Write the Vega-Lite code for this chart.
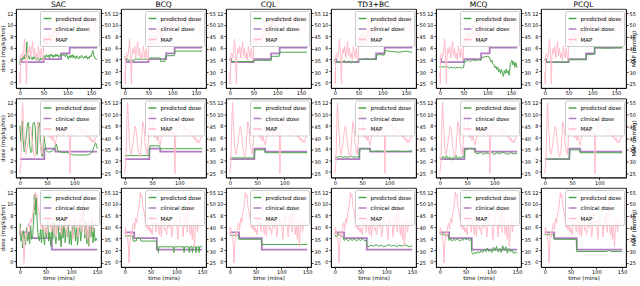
{
"$schema": "https://vega.github.io/schema/vega-lite/v6.json",
"padding": {"left": 0, "top": 0, "right": 0, "bottom": 0},
"background": "white",
"datasets": {
"m1": [{"t":0,"v":30},{"t":1,"v":25},{"t":2,"v":37},{"t":4,"v":38},{"t":6,"v":36},{"t":8,"v":39},{"t":10,"v":44},{"t":12,"v":37},{"t":14,"v":25},{"t":15,"v":36},{"t":17,"v":40},{"t":19,"v":38},{"t":21,"v":41},{"t":23,"v":36},{"t":25,"v":39},{"t":27,"v":43},{"t":29,"v":37},{"t":31,"v":40},{"t":33,"v":36},{"t":35,"v":38},{"t":37,"v":35},{"t":39,"v":41},{"t":41,"v":38},{"t":43,"v":36},{"t":45,"v":40},{"t":47,"v":37},{"t":49,"v":35},{"t":51,"v":45},{"t":53,"v":42},{"t":55,"v":46},{"t":57,"v":41},{"t":59,"v":44},{"t":61,"v":47},{"t":63,"v":43},{"t":65,"v":46},{"t":67,"v":42},{"t":69,"v":48},{"t":71,"v":44},{"t":73,"v":50},{"t":75,"v":45},{"t":77,"v":47},{"t":79,"v":43},{"t":81,"v":49},{"t":83,"v":45},{"t":85,"v":51},{"t":87,"v":47},{"t":89,"v":52},{"t":91,"v":49},{"t":93,"v":53},{"t":95,"v":50},{"t":97,"v":51},{"t":100,"v":49},{"t":103,"v":53},{"t":106,"v":51},{"t":109,"v":54},{"t":112,"v":51},{"t":115,"v":53},{"t":118,"v":50},{"t":121,"v":52},{"t":124,"v":55},{"t":127,"v":51},{"t":130,"v":53},{"t":133,"v":50},{"t":136,"v":54},{"t":139,"v":51},{"t":142,"v":53},{"t":145,"v":50},{"t":148,"v":46},{"t":150,"v":52},{"t":153,"v":55},{"t":156,"v":50},{"t":158,"v":47},{"t":160,"v":53},{"t":163,"v":50}],
"m2": [{"t":0,"v":25},{"t":2,"v":30},{"t":4,"v":50},{"t":5,"v":55},{"t":7,"v":45},{"t":9,"v":36},{"t":11,"v":33},{"t":13,"v":35},{"t":15,"v":38},{"t":17,"v":42},{"t":19,"v":45},{"t":21,"v":43},{"t":23,"v":38},{"t":25,"v":34},{"t":27,"v":32},{"t":29,"v":33},{"t":31,"v":40},{"t":33,"v":47},{"t":35,"v":45},{"t":37,"v":38},{"t":39,"v":35},{"t":41,"v":33},{"t":43,"v":38},{"t":45,"v":48},{"t":47,"v":55},{"t":49,"v":52},{"t":51,"v":47},{"t":53,"v":43},{"t":55,"v":40},{"t":57,"v":41},{"t":59,"v":39},{"t":61,"v":41},{"t":63,"v":38},{"t":65,"v":37},{"t":67,"v":40},{"t":69,"v":42},{"t":71,"v":41},{"t":73,"v":43},{"t":75,"v":42},{"t":77,"v":44},{"t":79,"v":41},{"t":81,"v":43},{"t":83,"v":42},{"t":85,"v":44},{"t":87,"v":41},{"t":89,"v":43},{"t":91,"v":42},{"t":92,"v":25},{"t":93,"v":38},{"t":95,"v":45},{"t":97,"v":47},{"t":99,"v":45},{"t":101,"v":44},{"t":103,"v":46},{"t":105,"v":45},{"t":107,"v":44},{"t":109,"v":43},{"t":111,"v":45},{"t":113,"v":43},{"t":115,"v":42},{"t":117,"v":44},{"t":119,"v":42},{"t":121,"v":43},{"t":123,"v":41},{"t":125,"v":40},{"t":127,"v":42},{"t":129,"v":39},{"t":131,"v":40},{"t":133,"v":38},{"t":135,"v":39},{"t":137,"v":38},{"t":139,"v":40},{"t":142,"v":41}],
"m3": [{"t":0,"v":37},{"t":1,"v":40},{"t":3,"v":38},{"t":5,"v":36},{"t":7,"v":32},{"t":8,"v":25},{"t":9,"v":30},{"t":11,"v":38},{"t":13,"v":36},{"t":15,"v":40},{"t":17,"v":42},{"t":19,"v":39},{"t":21,"v":44},{"t":23,"v":42},{"t":25,"v":46},{"t":27,"v":48},{"t":29,"v":52},{"t":30,"v":55},{"t":31,"v":53},{"t":33,"v":54},{"t":35,"v":49},{"t":37,"v":47},{"t":39,"v":44},{"t":41,"v":40},{"t":42,"v":42},{"t":45,"v":39},{"t":46,"v":41},{"t":49,"v":38},{"t":50,"v":40},{"t":53,"v":37},{"t":55,"v":43},{"t":56,"v":41},{"t":59,"v":42},{"t":61,"v":38},{"t":63,"v":44},{"t":64,"v":42},{"t":67,"v":37},{"t":69,"v":42},{"t":71,"v":36},{"t":72,"v":39},{"t":75,"v":45},{"t":77,"v":39},{"t":78,"v":40},{"t":81,"v":37},{"t":83,"v":41},{"t":85,"v":44},{"t":86,"v":40},{"t":89,"v":42},{"t":91,"v":36},{"t":93,"v":40},{"t":95,"v":46},{"t":96,"v":41},{"t":99,"v":43},{"t":101,"v":40},{"t":103,"v":35},{"t":105,"v":42},{"t":107,"v":45},{"t":108,"v":41},{"t":111,"v":41},{"t":113,"v":36},{"t":115,"v":44},{"t":116,"v":40},{"t":119,"v":46},{"t":121,"v":38},{"t":123,"v":50},{"t":124,"v":52},{"t":125,"v":42},{"t":127,"v":37},{"t":129,"v":41},{"t":131,"v":35},{"t":133,"v":43},{"t":135,"v":32},{"t":137,"v":40},{"t":139,"v":44},{"t":141,"v":38},{"t":143,"v":42},{"t":145,"v":41},{"t":147,"v":43},{"t":150,"v":42}],
"c1": [{"t":0,"v":4},{"t":3,"v":3.5},{"t":50,"v":4},{"t":87,"v":5},{"t":105,"v":6},{"t":163,"v":6}],
"c2": [{"t":0,"v":2.2},{"t":45,"v":4},{"t":65,"v":3.5},{"t":142,"v":3.5}],
"c3": [{"t":0,"v":5},{"t":18,"v":4},{"t":62,"v":2},{"t":150,"v":2}],
"SAC1": [{"t":0,"v":3},{"t":1,"v":4},{"t":3,"v":4.2},{"t":5,"v":3.8},{"t":7,"v":4.5},{"t":9,"v":4},{"t":11,"v":4.8},{"t":13,"v":4.2},{"t":15,"v":7},{"t":16,"v":5},{"t":18,"v":4.5},{"t":20,"v":4},{"t":22,"v":4.6},{"t":24,"v":4.2},{"t":26,"v":3.9},{"t":28,"v":4.4},{"t":30,"v":4},{"t":32,"v":4.5},{"t":34,"v":4.1},{"t":36,"v":3.8},{"t":38,"v":4.3},{"t":40,"v":4},{"t":42,"v":3.7},{"t":44,"v":4.2},{"t":46,"v":3.9},{"t":48,"v":4.3},{"t":50,"v":4},{"t":52,"v":4.6},{"t":54,"v":4.2},{"t":56,"v":4.8},{"t":58,"v":4.4},{"t":60,"v":4.7},{"t":62,"v":4.2},{"t":64,"v":4.9},{"t":66,"v":4.5},{"t":68,"v":4.8},{"t":70,"v":4.3},{"t":72,"v":4.7},{"t":74,"v":4.4},{"t":76,"v":4.9},{"t":78,"v":4.5},{"t":80,"v":4.8},{"t":82,"v":4.3},{"t":84,"v":4.6},{"t":86,"v":4.8},{"t":88,"v":4.5},{"t":90,"v":4.9},{"t":92,"v":4.6},{"t":94,"v":4.8},{"t":96,"v":4.4},{"t":98,"v":4.9},{"t":100,"v":4.6},{"t":102,"v":4},{"t":104,"v":4.6},{"t":106,"v":4.2},{"t":108,"v":4.7},{"t":110,"v":4.3},{"t":112,"v":4.8},{"t":114,"v":4.2},{"t":116,"v":4.5},{"t":118,"v":4.1},{"t":120,"v":4.6},{"t":122,"v":4.3},{"t":124,"v":4},{"t":126,"v":4.5},{"t":128,"v":4.2},{"t":130,"v":4.7},{"t":132,"v":4.3},{"t":134,"v":4.1},{"t":136,"v":4.5},{"t":138,"v":4.2},{"t":140,"v":4.6},{"t":142,"v":4},{"t":144,"v":4.4},{"t":146,"v":4.1},{"t":148,"v":4.6},{"t":150,"v":4.4},{"t":152,"v":5},{"t":154,"v":5.5},{"t":156,"v":4.6},{"t":158,"v":4.2},{"t":160,"v":4},{"t":163,"v":4}],
"BCQ1": [{"t":0,"v":4.5},{"t":2,"v":4},{"t":6,"v":4},{"t":7,"v":3.8},{"t":20,"v":3.8},{"t":21,"v":4},{"t":50,"v":4},{"t":52,"v":4.2},{"t":75,"v":4.2},{"t":76,"v":3.6},{"t":84,"v":3.6},{"t":85,"v":4.2},{"t":87,"v":4.6},{"t":104,"v":4.6},{"t":105,"v":5.4},{"t":163,"v":5.4}],
"CQL1": [{"t":0,"v":4},{"t":2,"v":3.6},{"t":50,"v":3.6},{"t":51,"v":3.8},{"t":87,"v":3.8},{"t":88,"v":4.5},{"t":104,"v":4.5},{"t":105,"v":5.2},{"t":163,"v":5.2}],
"TD31": [{"t":0,"v":4},{"t":1,"v":3.2},{"t":3,"v":3.6},{"t":5,"v":3.4},{"t":8,"v":3.7},{"t":11,"v":3.3},{"t":14,"v":3.6},{"t":17,"v":3.5},{"t":20,"v":3.8},{"t":23,"v":3.4},{"t":26,"v":3.6},{"t":29,"v":3.5},{"t":32,"v":3.7},{"t":35,"v":3.3},{"t":38,"v":3.6},{"t":41,"v":3.4},{"t":44,"v":3.6},{"t":47,"v":3.5},{"t":50,"v":3.7},{"t":52,"v":4},{"t":58,"v":3.9},{"t":64,"v":4.1},{"t":70,"v":4},{"t":76,"v":3.9},{"t":82,"v":4.1},{"t":87,"v":4},{"t":88,"v":4.7},{"t":95,"v":4.8},{"t":104,"v":4.7},{"t":105,"v":5.5},{"t":112,"v":5.4},{"t":120,"v":5.3},{"t":128,"v":5.3},{"t":136,"v":5.2},{"t":144,"v":5.3},{"t":150,"v":5.4},{"t":156,"v":5.3},{"t":163,"v":5.2}],
"MCQ1": [{"t":0,"v":2.8},{"t":1,"v":2.5},{"t":3,"v":2.7},{"t":6,"v":2.6},{"t":9,"v":2.8},{"t":12,"v":2.5},{"t":15,"v":2.7},{"t":18,"v":2.6},{"t":21,"v":2.4},{"t":24,"v":2.7},{"t":27,"v":2.5},{"t":30,"v":2.6},{"t":33,"v":2.4},{"t":36,"v":2.6},{"t":39,"v":2.5},{"t":42,"v":2.7},{"t":45,"v":2.4},{"t":48,"v":2.6},{"t":50,"v":2.5},{"t":52,"v":3.7},{"t":55,"v":3.6},{"t":60,"v":3.8},{"t":65,"v":3.6},{"t":70,"v":3.9},{"t":75,"v":3.7},{"t":80,"v":3.9},{"t":86,"v":3.8},{"t":88,"v":4.3},{"t":95,"v":4.4},{"t":100,"v":4.5},{"t":104,"v":4.4},{"t":106,"v":4},{"t":108,"v":3.5},{"t":110,"v":3.8},{"t":112,"v":3.2},{"t":114,"v":3},{"t":116,"v":2.5},{"t":118,"v":2.8},{"t":120,"v":2.2},{"t":122,"v":2.6},{"t":124,"v":1.8},{"t":126,"v":2.3},{"t":128,"v":1.5},{"t":130,"v":2.2},{"t":132,"v":1.7},{"t":134,"v":1},{"t":136,"v":2},{"t":138,"v":1.5},{"t":140,"v":2.3},{"t":142,"v":1.6},{"t":144,"v":2},{"t":146,"v":1.2},{"t":148,"v":2.8},{"t":150,"v":3.5},{"t":152,"v":3.8},{"t":154,"v":3},{"t":156,"v":3.6},{"t":158,"v":2.6},{"t":160,"v":3.4},{"t":163,"v":2.5}],
"PCQL1": [{"t":0,"v":4},{"t":2,"v":3.5},{"t":50,"v":3.5},{"t":51,"v":3.9},{"t":87,"v":3.9},{"t":88,"v":4.8},{"t":104,"v":4.8},{"t":105,"v":6},{"t":130,"v":5.9},{"t":163,"v":6}],
"SAC2": [{"t":0,"v":8},{"t":2,"v":5.3},{"t":4,"v":8.8},{"t":6,"v":5.5},{"t":8,"v":3.5},{"t":10,"v":4.5},{"t":12,"v":6.5},{"t":14,"v":8.3},{"t":16,"v":8.6},{"t":18,"v":4.5},{"t":20,"v":3.3},{"t":22,"v":3.5},{"t":24,"v":8.4},{"t":26,"v":8.6},{"t":28,"v":8},{"t":30,"v":3.5},{"t":32,"v":3},{"t":34,"v":8.3},{"t":36,"v":8.5},{"t":38,"v":5},{"t":40,"v":2.8},{"t":42,"v":2.6},{"t":44,"v":6.5},{"t":46,"v":5},{"t":48,"v":3.7},{"t":50,"v":3.5},{"t":55,"v":3.4},{"t":60,"v":3.6},{"t":64,"v":4.2},{"t":67,"v":4.8},{"t":70,"v":3.6},{"t":75,"v":3.4},{"t":80,"v":3.3},{"t":85,"v":3.4},{"t":90,"v":3.2},{"t":95,"v":3},{"t":100,"v":2.9},{"t":110,"v":2.9},{"t":120,"v":2.9},{"t":128,"v":3},{"t":132,"v":3.3},{"t":136,"v":4.2},{"t":139,"v":5},{"t":141,"v":4.6},{"t":142,"v":4}],
"BCQ2": [{"t":0,"v":2.8},{"t":45,"v":2.8},{"t":46,"v":4.5},{"t":64,"v":4.5},{"t":65,"v":4},{"t":142,"v":4}],
"CQL2": [{"t":0,"v":2.4},{"t":45,"v":2.4},{"t":46,"v":3.8},{"t":64,"v":3.8},{"t":65,"v":3.3},{"t":142,"v":3.3}],
"TD32": [{"t":0,"v":2.6},{"t":5,"v":2.5},{"t":10,"v":2.7},{"t":15,"v":2.5},{"t":20,"v":2.6},{"t":25,"v":2.5},{"t":30,"v":2.7},{"t":35,"v":2.5},{"t":40,"v":2.6},{"t":45,"v":2.5},{"t":46,"v":3.9},{"t":55,"v":4},{"t":64,"v":3.9},{"t":65,"v":3.5},{"t":80,"v":3.6},{"t":95,"v":3.5},{"t":110,"v":3.6},{"t":125,"v":3.5},{"t":142,"v":3.6}],
"MCQ2": [{"t":0,"v":2.5},{"t":3,"v":2.2},{"t":6,"v":2.7},{"t":9,"v":2.3},{"t":12,"v":2.8},{"t":15,"v":2.2},{"t":18,"v":2.6},{"t":21,"v":2},{"t":24,"v":2.5},{"t":27,"v":2.3},{"t":30,"v":2.8},{"t":33,"v":2.1},{"t":36,"v":2.6},{"t":39,"v":2.3},{"t":42,"v":2.7},{"t":45,"v":2.4},{"t":46,"v":4},{"t":50,"v":3.8},{"t":55,"v":4.1},{"t":60,"v":3.9},{"t":64,"v":4},{"t":65,"v":3.3},{"t":70,"v":3.1},{"t":75,"v":3.4},{"t":80,"v":3},{"t":85,"v":3.3},{"t":90,"v":3.1},{"t":95,"v":3.4},{"t":100,"v":3},{"t":105,"v":3.3},{"t":110,"v":3.1},{"t":115,"v":3.4},{"t":120,"v":3.2},{"t":125,"v":3},{"t":130,"v":3.3},{"t":135,"v":3.1},{"t":142,"v":3.2}],
"PCQL2": [{"t":0,"v":2.2},{"t":45,"v":2.2},{"t":46,"v":3.8},{"t":64,"v":3.8},{"t":65,"v":3.3},{"t":142,"v":3.3}],
"SAC3": [{"t":0,"v":4.5},{"t":1,"v":6.5},{"t":2,"v":3.5},{"t":4,"v":5},{"t":5,"v":2.3},{"t":7,"v":5.3},{"t":9,"v":4.2},{"t":11,"v":2.8},{"t":13,"v":5.8},{"t":15,"v":3.5},{"t":17,"v":4.8},{"t":19,"v":3},{"t":21,"v":6.2},{"t":23,"v":3.8},{"t":25,"v":4.5},{"t":27,"v":7.5},{"t":28,"v":11.5},{"t":29,"v":9},{"t":30,"v":11.6},{"t":31,"v":8},{"t":32,"v":11},{"t":34,"v":6},{"t":36,"v":4},{"t":38,"v":3.5},{"t":40,"v":5.5},{"t":42,"v":3.2},{"t":44,"v":6.5},{"t":46,"v":4},{"t":48,"v":2.8},{"t":50,"v":5.8},{"t":52,"v":4.2},{"t":54,"v":7},{"t":56,"v":3.5},{"t":58,"v":5},{"t":60,"v":2.6},{"t":62,"v":6},{"t":64,"v":3.8},{"t":66,"v":6.8},{"t":68,"v":4.5},{"t":70,"v":3},{"t":72,"v":5.5},{"t":74,"v":7.2},{"t":76,"v":3.6},{"t":78,"v":5},{"t":80,"v":2.5},{"t":82,"v":6.2},{"t":84,"v":4},{"t":86,"v":7.5},{"t":88,"v":3.2},{"t":90,"v":5.5},{"t":92,"v":4.2},{"t":94,"v":6.8},{"t":96,"v":3},{"t":98,"v":5.2},{"t":100,"v":2.8},{"t":102,"v":6},{"t":104,"v":4.5},{"t":106,"v":7},{"t":108,"v":3.5},{"t":110,"v":5.8},{"t":112,"v":2.8},{"t":114,"v":4.8},{"t":116,"v":6.5},{"t":118,"v":3.5},{"t":120,"v":5.2},{"t":122,"v":7.5},{"t":124,"v":11},{"t":125,"v":8},{"t":126,"v":4},{"t":128,"v":6.8},{"t":130,"v":3},{"t":132,"v":5.5},{"t":134,"v":2.6},{"t":136,"v":6},{"t":138,"v":4.2},{"t":140,"v":7},{"t":142,"v":3.2},{"t":144,"v":5.8},{"t":146,"v":3.5},{"t":148,"v":4},{"t":150,"v":3.6}],
"BCQ3": [{"t":0,"v":4.4},{"t":15,"v":4.4},{"t":16,"v":3.5},{"t":22,"v":3.5},{"t":23,"v":4},{"t":30,"v":4},{"t":31,"v":3.5},{"t":61,"v":3.5},{"t":62,"v":2.5},{"t":64,"v":2.5},{"t":65,"v":1.5},{"t":66,"v":2.5},{"t":94,"v":2.5},{"t":95,"v":1.5},{"t":96,"v":2.5},{"t":114,"v":2.5},{"t":115,"v":1.5},{"t":116,"v":2.5},{"t":124,"v":2.5},{"t":125,"v":1.5},{"t":126,"v":2.5},{"t":130,"v":2.5},{"t":131,"v":1.5},{"t":132,"v":2.5},{"t":137,"v":2.5},{"t":138,"v":1.5},{"t":139,"v":2.5},{"t":143,"v":2.5},{"t":144,"v":1.5},{"t":145,"v":2.5},{"t":150,"v":2.5}],
"CQL3": [{"t":0,"v":4.5},{"t":17,"v":4.5},{"t":18,"v":3.8},{"t":61,"v":3.8},{"t":62,"v":2.9},{"t":150,"v":2.9}],
"TD33": [{"t":0,"v":4.6},{"t":3,"v":4.2},{"t":6,"v":4.8},{"t":9,"v":4.4},{"t":12,"v":4.7},{"t":15,"v":4.3},{"t":18,"v":3.6},{"t":22,"v":3.9},{"t":26,"v":3.5},{"t":30,"v":3.8},{"t":34,"v":3.6},{"t":38,"v":3.9},{"t":42,"v":3.5},{"t":46,"v":3.8},{"t":50,"v":3.6},{"t":54,"v":3.9},{"t":58,"v":3.5},{"t":61,"v":3.7},{"t":62,"v":2.7},{"t":66,"v":2.5},{"t":70,"v":2.8},{"t":75,"v":2.6},{"t":80,"v":2.9},{"t":85,"v":2.6},{"t":90,"v":2.8},{"t":95,"v":2.5},{"t":100,"v":2.7},{"t":105,"v":2.9},{"t":110,"v":2.6},{"t":115,"v":2.8},{"t":120,"v":2.5},{"t":125,"v":2.8},{"t":130,"v":2.6},{"t":135,"v":2.9},{"t":140,"v":2.7},{"t":145,"v":2.5},{"t":150,"v":2.7}],
"MCQ3": [{"t":0,"v":4.8},{"t":2,"v":4.6},{"t":4,"v":4.9},{"t":7,"v":4.5},{"t":10,"v":4.7},{"t":13,"v":4.4},{"t":16,"v":4.6},{"t":18,"v":3.6},{"t":21,"v":3.9},{"t":24,"v":3.5},{"t":27,"v":3.8},{"t":30,"v":3.6},{"t":33,"v":3.9},{"t":36,"v":3.7},{"t":39,"v":3.5},{"t":42,"v":3.8},{"t":45,"v":3.6},{"t":48,"v":4},{"t":51,"v":3.7},{"t":54,"v":3.9},{"t":57,"v":3.6},{"t":61,"v":3.8},{"t":62,"v":1.5},{"t":65,"v":1.2},{"t":68,"v":1.6},{"t":71,"v":1.3},{"t":74,"v":1.7},{"t":77,"v":1.4},{"t":80,"v":1.9},{"t":83,"v":1.5},{"t":86,"v":2.1},{"t":89,"v":1.6},{"t":92,"v":2.3},{"t":95,"v":1.7},{"t":98,"v":2},{"t":101,"v":1.5},{"t":104,"v":2.4},{"t":107,"v":1.8},{"t":110,"v":2.6},{"t":113,"v":1.6},{"t":116,"v":2.2},{"t":119,"v":1.5},{"t":122,"v":2.7},{"t":125,"v":1.8},{"t":128,"v":2.5},{"t":131,"v":1.4},{"t":134,"v":2.2},{"t":137,"v":1.6},{"t":140,"v":2},{"t":143,"v":1.3},{"t":146,"v":1.6},{"t":150,"v":1.4}],
"PCQL3": [{"t":0,"v":4.6},{"t":17,"v":4.6},{"t":18,"v":3.8},{"t":61,"v":3.8},{"t":62,"v":1.7},{"t":120,"v":1.7},{"t":124,"v":1.9},{"t":128,"v":1.7},{"t":150,"v":1.7}]
},
"columns": 6,
"spacing": {"row": 10.5, "column": 20},
"bounds": "flush",
"resolve": {"scale": {"color": "independent"}},
"concat": [
{"title":"SAC","width":85,"height":79,"encoding":{"x":{"field":"t","type":"quantitative","scale":{"domain":[-8,171],"nice":false},"axis":{"title":null}}},"layer":[
{"data":{"name":"c1"},"mark":{"type":"line","interpolate":"step-after","strokeWidth":1.8},"encoding":{"y":{"field":"v","type":"quantitative","scale":{"domain":[-1,12.7],"nice":false},"axis":null},"color":{"datum":"clinical dose","title":null}}},
{"data":{"name":"SAC1"},"mark":{"type":"line","strokeWidth":1},"encoding":{"y":{"field":"v","type":"quantitative","scale":{"domain":[-1,12.7],"nice":false},"axis":{"title":"dose (mg/kg/hrs)"}},"color":{"datum":"predicted dose","title":null,"scale":{"domain":["predicted dose","clinical dose","MAP"]}}}},
{"data":{"name":"m1"},"mark":{"type":"line","strokeWidth":1},"encoding":{"y":{"field":"v","type":"quantitative","scale":{"domain":[23.3,56.7],"nice":false},"axis":{"orient":"right","title":null}},"color":{"datum":"MAP","title":null}}}
],"resolve":{"scale":{"y":"independent"}}},
{"title":"BCQ","width":85,"height":79,"encoding":{"x":{"field":"t","type":"quantitative","scale":{"domain":[-8,171],"nice":false},"axis":{"title":null}}},"layer":[
{"data":{"name":"c1"},"mark":{"type":"line","interpolate":"step-after","strokeWidth":1.8},"encoding":{"y":{"field":"v","type":"quantitative","scale":{"domain":[-1,12.7],"nice":false},"axis":null},"color":{"datum":"clinical dose","title":null}}},
{"data":{"name":"BCQ1"},"mark":{"type":"line","strokeWidth":1},"encoding":{"y":{"field":"v","type":"quantitative","scale":{"domain":[-1,12.7],"nice":false},"axis":{"title":null}},"color":{"datum":"predicted dose","title":null,"scale":{"domain":["predicted dose","clinical dose","MAP"]}}}},
{"data":{"name":"m1"},"mark":{"type":"line","strokeWidth":1},"encoding":{"y":{"field":"v","type":"quantitative","scale":{"domain":[23.3,56.7],"nice":false},"axis":{"orient":"right","title":null}},"color":{"datum":"MAP","title":null}}}
],"resolve":{"scale":{"y":"independent"}}},
{"title":"CQL","width":85,"height":79,"encoding":{"x":{"field":"t","type":"quantitative","scale":{"domain":[-8,171],"nice":false},"axis":{"title":null}}},"layer":[
{"data":{"name":"c1"},"mark":{"type":"line","interpolate":"step-after","strokeWidth":1.8},"encoding":{"y":{"field":"v","type":"quantitative","scale":{"domain":[-1,12.7],"nice":false},"axis":null},"color":{"datum":"clinical dose","title":null}}},
{"data":{"name":"CQL1"},"mark":{"type":"line","strokeWidth":1},"encoding":{"y":{"field":"v","type":"quantitative","scale":{"domain":[-1,12.7],"nice":false},"axis":{"title":null}},"color":{"datum":"predicted dose","title":null,"scale":{"domain":["predicted dose","clinical dose","MAP"]}}}},
{"data":{"name":"m1"},"mark":{"type":"line","strokeWidth":1},"encoding":{"y":{"field":"v","type":"quantitative","scale":{"domain":[23.3,56.7],"nice":false},"axis":{"orient":"right","title":null}},"color":{"datum":"MAP","title":null}}}
],"resolve":{"scale":{"y":"independent"}}},
{"title":"TD3+BC","width":85,"height":79,"encoding":{"x":{"field":"t","type":"quantitative","scale":{"domain":[-8,171],"nice":false},"axis":{"title":null}}},"layer":[
{"data":{"name":"c1"},"mark":{"type":"line","interpolate":"step-after","strokeWidth":1.8},"encoding":{"y":{"field":"v","type":"quantitative","scale":{"domain":[-1,12.7],"nice":false},"axis":null},"color":{"datum":"clinical dose","title":null}}},
{"data":{"name":"TD31"},"mark":{"type":"line","strokeWidth":1},"encoding":{"y":{"field":"v","type":"quantitative","scale":{"domain":[-1,12.7],"nice":false},"axis":{"title":null}},"color":{"datum":"predicted dose","title":null,"scale":{"domain":["predicted dose","clinical dose","MAP"]}}}},
{"data":{"name":"m1"},"mark":{"type":"line","strokeWidth":1},"encoding":{"y":{"field":"v","type":"quantitative","scale":{"domain":[23.3,56.7],"nice":false},"axis":{"orient":"right","title":null}},"color":{"datum":"MAP","title":null}}}
],"resolve":{"scale":{"y":"independent"}}},
{"title":"MCQ","width":85,"height":79,"encoding":{"x":{"field":"t","type":"quantitative","scale":{"domain":[-8,171],"nice":false},"axis":{"title":null}}},"layer":[
{"data":{"name":"c1"},"mark":{"type":"line","interpolate":"step-after","strokeWidth":1.8},"encoding":{"y":{"field":"v","type":"quantitative","scale":{"domain":[-1,12.7],"nice":false},"axis":null},"color":{"datum":"clinical dose","title":null}}},
{"data":{"name":"MCQ1"},"mark":{"type":"line","strokeWidth":1},"encoding":{"y":{"field":"v","type":"quantitative","scale":{"domain":[-1,12.7],"nice":false},"axis":{"title":null}},"color":{"datum":"predicted dose","title":null,"scale":{"domain":["predicted dose","clinical dose","MAP"]}}}},
{"data":{"name":"m1"},"mark":{"type":"line","strokeWidth":1},"encoding":{"y":{"field":"v","type":"quantitative","scale":{"domain":[23.3,56.7],"nice":false},"axis":{"orient":"right","title":null}},"color":{"datum":"MAP","title":null}}}
],"resolve":{"scale":{"y":"independent"}}},
{"title":"PCQL","width":85,"height":79,"encoding":{"x":{"field":"t","type":"quantitative","scale":{"domain":[-8,171],"nice":false},"axis":{"title":null}}},"layer":[
{"data":{"name":"c1"},"mark":{"type":"line","interpolate":"step-after","strokeWidth":1.8},"encoding":{"y":{"field":"v","type":"quantitative","scale":{"domain":[-1,12.7],"nice":false},"axis":null},"color":{"datum":"clinical dose","title":null}}},
{"data":{"name":"PCQL1"},"mark":{"type":"line","strokeWidth":1},"encoding":{"y":{"field":"v","type":"quantitative","scale":{"domain":[-1,12.7],"nice":false},"axis":{"title":null}},"color":{"datum":"predicted dose","title":null,"scale":{"domain":["predicted dose","clinical dose","MAP"]}}}},
{"data":{"name":"m1"},"mark":{"type":"line","strokeWidth":1},"encoding":{"y":{"field":"v","type":"quantitative","scale":{"domain":[23.3,56.7],"nice":false},"axis":{"orient":"right","title":"MAP (mmHg)","titleAngle":270}},"color":{"datum":"MAP","title":null}}}
],"resolve":{"scale":{"y":"independent"}}},
{"width":85,"height":79,"encoding":{"x":{"field":"t","type":"quantitative","scale":{"domain":[-7.1,149.1],"nice":false},"axis":{"title":null}}},"layer":[
{"data":{"name":"c2"},"mark":{"type":"line","interpolate":"step-after","strokeWidth":1.8},"encoding":{"y":{"field":"v","type":"quantitative","scale":{"domain":[-1,12.7],"nice":false},"axis":null},"color":{"datum":"clinical dose","title":null}}},
{"data":{"name":"SAC2"},"mark":{"type":"line","strokeWidth":1},"encoding":{"y":{"field":"v","type":"quantitative","scale":{"domain":[-1,12.7],"nice":false},"axis":{"title":"dose (mg/kg/hrs)"}},"color":{"datum":"predicted dose","title":null,"scale":{"domain":["predicted dose","clinical dose","MAP"]}}}},
{"data":{"name":"m2"},"mark":{"type":"line","strokeWidth":1},"encoding":{"y":{"field":"v","type":"quantitative","scale":{"domain":[23.3,56.7],"nice":false},"axis":{"orient":"right","title":null}},"color":{"datum":"MAP","title":null}}}
],"resolve":{"scale":{"y":"independent"}}},
{"width":85,"height":79,"encoding":{"x":{"field":"t","type":"quantitative","scale":{"domain":[-7.1,149.1],"nice":false},"axis":{"title":null}}},"layer":[
{"data":{"name":"c2"},"mark":{"type":"line","interpolate":"step-after","strokeWidth":1.8},"encoding":{"y":{"field":"v","type":"quantitative","scale":{"domain":[-1,12.7],"nice":false},"axis":null},"color":{"datum":"clinical dose","title":null}}},
{"data":{"name":"BCQ2"},"mark":{"type":"line","strokeWidth":1},"encoding":{"y":{"field":"v","type":"quantitative","scale":{"domain":[-1,12.7],"nice":false},"axis":{"title":null}},"color":{"datum":"predicted dose","title":null,"scale":{"domain":["predicted dose","clinical dose","MAP"]}}}},
{"data":{"name":"m2"},"mark":{"type":"line","strokeWidth":1},"encoding":{"y":{"field":"v","type":"quantitative","scale":{"domain":[23.3,56.7],"nice":false},"axis":{"orient":"right","title":null}},"color":{"datum":"MAP","title":null}}}
],"resolve":{"scale":{"y":"independent"}}},
{"width":85,"height":79,"encoding":{"x":{"field":"t","type":"quantitative","scale":{"domain":[-7.1,149.1],"nice":false},"axis":{"title":null}}},"layer":[
{"data":{"name":"c2"},"mark":{"type":"line","interpolate":"step-after","strokeWidth":1.8},"encoding":{"y":{"field":"v","type":"quantitative","scale":{"domain":[-1,12.7],"nice":false},"axis":null},"color":{"datum":"clinical dose","title":null}}},
{"data":{"name":"CQL2"},"mark":{"type":"line","strokeWidth":1},"encoding":{"y":{"field":"v","type":"quantitative","scale":{"domain":[-1,12.7],"nice":false},"axis":{"title":null}},"color":{"datum":"predicted dose","title":null,"scale":{"domain":["predicted dose","clinical dose","MAP"]}}}},
{"data":{"name":"m2"},"mark":{"type":"line","strokeWidth":1},"encoding":{"y":{"field":"v","type":"quantitative","scale":{"domain":[23.3,56.7],"nice":false},"axis":{"orient":"right","title":null}},"color":{"datum":"MAP","title":null}}}
],"resolve":{"scale":{"y":"independent"}}},
{"width":85,"height":79,"encoding":{"x":{"field":"t","type":"quantitative","scale":{"domain":[-7.1,149.1],"nice":false},"axis":{"title":null}}},"layer":[
{"data":{"name":"c2"},"mark":{"type":"line","interpolate":"step-after","strokeWidth":1.8},"encoding":{"y":{"field":"v","type":"quantitative","scale":{"domain":[-1,12.7],"nice":false},"axis":null},"color":{"datum":"clinical dose","title":null}}},
{"data":{"name":"TD32"},"mark":{"type":"line","strokeWidth":1},"encoding":{"y":{"field":"v","type":"quantitative","scale":{"domain":[-1,12.7],"nice":false},"axis":{"title":null}},"color":{"datum":"predicted dose","title":null,"scale":{"domain":["predicted dose","clinical dose","MAP"]}}}},
{"data":{"name":"m2"},"mark":{"type":"line","strokeWidth":1},"encoding":{"y":{"field":"v","type":"quantitative","scale":{"domain":[23.3,56.7],"nice":false},"axis":{"orient":"right","title":null}},"color":{"datum":"MAP","title":null}}}
],"resolve":{"scale":{"y":"independent"}}},
{"width":85,"height":79,"encoding":{"x":{"field":"t","type":"quantitative","scale":{"domain":[-7.1,149.1],"nice":false},"axis":{"title":null}}},"layer":[
{"data":{"name":"c2"},"mark":{"type":"line","interpolate":"step-after","strokeWidth":1.8},"encoding":{"y":{"field":"v","type":"quantitative","scale":{"domain":[-1,12.7],"nice":false},"axis":null},"color":{"datum":"clinical dose","title":null}}},
{"data":{"name":"MCQ2"},"mark":{"type":"line","strokeWidth":1},"encoding":{"y":{"field":"v","type":"quantitative","scale":{"domain":[-1,12.7],"nice":false},"axis":{"title":null}},"color":{"datum":"predicted dose","title":null,"scale":{"domain":["predicted dose","clinical dose","MAP"]}}}},
{"data":{"name":"m2"},"mark":{"type":"line","strokeWidth":1},"encoding":{"y":{"field":"v","type":"quantitative","scale":{"domain":[23.3,56.7],"nice":false},"axis":{"orient":"right","title":null}},"color":{"datum":"MAP","title":null}}}
],"resolve":{"scale":{"y":"independent"}}},
{"width":85,"height":79,"encoding":{"x":{"field":"t","type":"quantitative","scale":{"domain":[-7.1,149.1],"nice":false},"axis":{"title":null}}},"layer":[
{"data":{"name":"c2"},"mark":{"type":"line","interpolate":"step-after","strokeWidth":1.8},"encoding":{"y":{"field":"v","type":"quantitative","scale":{"domain":[-1,12.7],"nice":false},"axis":null},"color":{"datum":"clinical dose","title":null}}},
{"data":{"name":"PCQL2"},"mark":{"type":"line","strokeWidth":1},"encoding":{"y":{"field":"v","type":"quantitative","scale":{"domain":[-1,12.7],"nice":false},"axis":{"title":null}},"color":{"datum":"predicted dose","title":null,"scale":{"domain":["predicted dose","clinical dose","MAP"]}}}},
{"data":{"name":"m2"},"mark":{"type":"line","strokeWidth":1},"encoding":{"y":{"field":"v","type":"quantitative","scale":{"domain":[23.3,56.7],"nice":false},"axis":{"orient":"right","title":"MAP (mmHg)","titleAngle":270}},"color":{"datum":"MAP","title":null}}}
],"resolve":{"scale":{"y":"independent"}}},
{"width":85,"height":79,"encoding":{"x":{"field":"t","type":"quantitative","scale":{"domain":[-7.5,157.5],"nice":false},"axis":{"title":"time (mins)"}}},"layer":[
{"data":{"name":"c3"},"mark":{"type":"line","interpolate":"step-after","strokeWidth":1.8},"encoding":{"y":{"field":"v","type":"quantitative","scale":{"domain":[-1,12.7],"nice":false},"axis":null},"color":{"datum":"clinical dose","title":null}}},
{"data":{"name":"SAC3"},"mark":{"type":"line","strokeWidth":1},"encoding":{"y":{"field":"v","type":"quantitative","scale":{"domain":[-1,12.7],"nice":false},"axis":{"title":"dose (mg/kg/hrs)"}},"color":{"datum":"predicted dose","title":null,"scale":{"domain":["predicted dose","clinical dose","MAP"]}}}},
{"data":{"name":"m3"},"mark":{"type":"line","strokeWidth":1},"encoding":{"y":{"field":"v","type":"quantitative","scale":{"domain":[23.3,56.7],"nice":false},"axis":{"orient":"right","title":null}},"color":{"datum":"MAP","title":null}}}
],"resolve":{"scale":{"y":"independent"}}},
{"width":85,"height":79,"encoding":{"x":{"field":"t","type":"quantitative","scale":{"domain":[-7.5,157.5],"nice":false},"axis":{"title":"time (mins)"}}},"layer":[
{"data":{"name":"c3"},"mark":{"type":"line","interpolate":"step-after","strokeWidth":1.8},"encoding":{"y":{"field":"v","type":"quantitative","scale":{"domain":[-1,12.7],"nice":false},"axis":null},"color":{"datum":"clinical dose","title":null}}},
{"data":{"name":"BCQ3"},"mark":{"type":"line","strokeWidth":1},"encoding":{"y":{"field":"v","type":"quantitative","scale":{"domain":[-1,12.7],"nice":false},"axis":{"title":null}},"color":{"datum":"predicted dose","title":null,"scale":{"domain":["predicted dose","clinical dose","MAP"]}}}},
{"data":{"name":"m3"},"mark":{"type":"line","strokeWidth":1},"encoding":{"y":{"field":"v","type":"quantitative","scale":{"domain":[23.3,56.7],"nice":false},"axis":{"orient":"right","title":null}},"color":{"datum":"MAP","title":null}}}
],"resolve":{"scale":{"y":"independent"}}},
{"width":85,"height":79,"encoding":{"x":{"field":"t","type":"quantitative","scale":{"domain":[-7.5,157.5],"nice":false},"axis":{"title":"time (mins)"}}},"layer":[
{"data":{"name":"c3"},"mark":{"type":"line","interpolate":"step-after","strokeWidth":1.8},"encoding":{"y":{"field":"v","type":"quantitative","scale":{"domain":[-1,12.7],"nice":false},"axis":null},"color":{"datum":"clinical dose","title":null}}},
{"data":{"name":"CQL3"},"mark":{"type":"line","strokeWidth":1},"encoding":{"y":{"field":"v","type":"quantitative","scale":{"domain":[-1,12.7],"nice":false},"axis":{"title":null}},"color":{"datum":"predicted dose","title":null,"scale":{"domain":["predicted dose","clinical dose","MAP"]}}}},
{"data":{"name":"m3"},"mark":{"type":"line","strokeWidth":1},"encoding":{"y":{"field":"v","type":"quantitative","scale":{"domain":[23.3,56.7],"nice":false},"axis":{"orient":"right","title":null}},"color":{"datum":"MAP","title":null}}}
],"resolve":{"scale":{"y":"independent"}}},
{"width":85,"height":79,"encoding":{"x":{"field":"t","type":"quantitative","scale":{"domain":[-7.5,157.5],"nice":false},"axis":{"title":"time (mins)"}}},"layer":[
{"data":{"name":"c3"},"mark":{"type":"line","interpolate":"step-after","strokeWidth":1.8},"encoding":{"y":{"field":"v","type":"quantitative","scale":{"domain":[-1,12.7],"nice":false},"axis":null},"color":{"datum":"clinical dose","title":null}}},
{"data":{"name":"TD33"},"mark":{"type":"line","strokeWidth":1},"encoding":{"y":{"field":"v","type":"quantitative","scale":{"domain":[-1,12.7],"nice":false},"axis":{"title":null}},"color":{"datum":"predicted dose","title":null,"scale":{"domain":["predicted dose","clinical dose","MAP"]}}}},
{"data":{"name":"m3"},"mark":{"type":"line","strokeWidth":1},"encoding":{"y":{"field":"v","type":"quantitative","scale":{"domain":[23.3,56.7],"nice":false},"axis":{"orient":"right","title":null}},"color":{"datum":"MAP","title":null}}}
],"resolve":{"scale":{"y":"independent"}}},
{"width":85,"height":79,"encoding":{"x":{"field":"t","type":"quantitative","scale":{"domain":[-7.5,157.5],"nice":false},"axis":{"title":"time (mins)"}}},"layer":[
{"data":{"name":"c3"},"mark":{"type":"line","interpolate":"step-after","strokeWidth":1.8},"encoding":{"y":{"field":"v","type":"quantitative","scale":{"domain":[-1,12.7],"nice":false},"axis":null},"color":{"datum":"clinical dose","title":null}}},
{"data":{"name":"MCQ3"},"mark":{"type":"line","strokeWidth":1},"encoding":{"y":{"field":"v","type":"quantitative","scale":{"domain":[-1,12.7],"nice":false},"axis":{"title":null}},"color":{"datum":"predicted dose","title":null,"scale":{"domain":["predicted dose","clinical dose","MAP"]}}}},
{"data":{"name":"m3"},"mark":{"type":"line","strokeWidth":1},"encoding":{"y":{"field":"v","type":"quantitative","scale":{"domain":[23.3,56.7],"nice":false},"axis":{"orient":"right","title":null}},"color":{"datum":"MAP","title":null}}}
],"resolve":{"scale":{"y":"independent"}}},
{"width":85,"height":79,"encoding":{"x":{"field":"t","type":"quantitative","scale":{"domain":[-7.5,157.5],"nice":false},"axis":{"title":"time (mins)"}}},"layer":[
{"data":{"name":"c3"},"mark":{"type":"line","interpolate":"step-after","strokeWidth":1.8},"encoding":{"y":{"field":"v","type":"quantitative","scale":{"domain":[-1,12.7],"nice":false},"axis":null},"color":{"datum":"clinical dose","title":null}}},
{"data":{"name":"PCQL3"},"mark":{"type":"line","strokeWidth":1},"encoding":{"y":{"field":"v","type":"quantitative","scale":{"domain":[-1,12.7],"nice":false},"axis":{"title":null}},"color":{"datum":"predicted dose","title":null,"scale":{"domain":["predicted dose","clinical dose","MAP"]}}}},
{"data":{"name":"m3"},"mark":{"type":"line","strokeWidth":1},"encoding":{"y":{"field":"v","type":"quantitative","scale":{"domain":[23.3,56.7],"nice":false},"axis":{"orient":"right","title":"MAP (mmHg)","titleAngle":270}},"color":{"datum":"MAP","title":null}}}
],"resolve":{"scale":{"y":"independent"}}}
],
"config": {
"font": "DejaVu Sans",
"view": {"stroke": "#000", "strokeWidth": 0.8},
"range": {"category": ["#4da64d", "#b07cc0", "#ffbcc8"]},
"axis": {"grid": false, "domainColor": "#000", "tickColor": "#000", "labelColor": "#000", "titleColor": "#000", "labelFontSize": 5, "titleFontSize": 5.5, "titleFontWeight": "normal", "tickSize": 2, "labelPadding": 1, "domainWidth": 0.8, "tickWidth": 0.8, "titlePadding": 1, "labelFont": "DejaVu Sans", "titleFont": "DejaVu Sans"},
"axisX": {"tickCount": 4, "titlePadding": 0.5, "labelPadding": 0.5},
"axisY": {"tickCount": 7},
"legend": {"orient": "top-right", "symbolType": "stroke", "labelFontSize": 5.5, "labelFont": "DejaVu Sans", "labelColor": "#000", "symbolSize": 60, "symbolStrokeWidth": 1.5, "fillColor": "rgba(255,255,255,0.8)", "strokeColor": "#cccccc", "padding": 2.5, "rowPadding": 1.5, "offset": 2, "labelOffset": 3, "cornerRadius": 1.5},
"title": {"fontSize": 7.5, "fontWeight": "normal", "offset": 0.5, "font": "DejaVu Sans", "color": "#000"}
}
}
